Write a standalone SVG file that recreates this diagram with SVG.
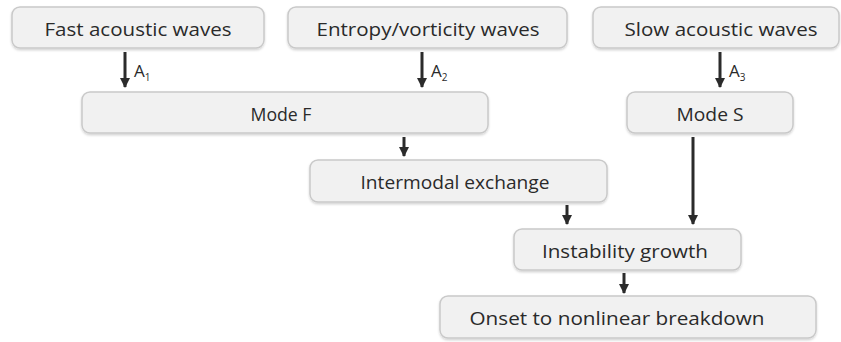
<svg xmlns="http://www.w3.org/2000/svg" width="841" height="342" viewBox="0 0 841 342">
<defs>
<marker id="ah" viewBox="0 0 10 10" refX="9" refY="5" markerWidth="3.4" markerHeight="3.4" orient="auto" markerUnits="strokeWidth">
<path d="M0,0 L10,5 L0,10 z" fill="#2b2b2b"/>
</marker>
<filter id="sh" x="-5%" y="-10%" width="110%" height="130%">
<feDropShadow dx="0" dy="1.5" stdDeviation="1" flood-color="#000" flood-opacity="0.18"/>
</filter>
</defs>
<style>
.box{fill:#f1f1f1;stroke:#c9c9c9;stroke-width:1.5;filter:url(#sh)}
.t{font-family:"Open Sans","Noto Sans","Liberation Sans",sans-serif;font-size:18.5px;fill:#2a2a2a;text-anchor:middle;dominant-baseline:central}
.lbl{font-family:"Open Sans","Noto Sans","Liberation Sans",sans-serif;font-size:17px;fill:#2a2a2a}
.sub{font-size:10px}
.c{stroke:#2b2b2b;stroke-width:3;fill:none;marker-end:url(#ah)}
</style>
<g id="fast"><rect class="box" x="12" y="7" width="252" height="41" rx="8"/><text class="t" x="138" y="28" textLength="187" lengthAdjust="spacingAndGlyphs">Fast acoustic waves</text></g>
<g id="entropy"><rect class="box" x="288" y="7" width="279" height="41" rx="8"/><text class="t" x="428" y="28" textLength="223" lengthAdjust="spacingAndGlyphs">Entropy/vorticity waves</text></g>
<g id="slow"><rect class="box" x="593" y="7" width="246" height="41" rx="8"/><text class="t" x="721" y="28" textLength="193" lengthAdjust="spacingAndGlyphs">Slow acoustic waves</text></g>
<g id="modeF"><rect class="box" x="82" y="92" width="406" height="41" rx="8"/><text class="t" x="281" y="113" textLength="61" lengthAdjust="spacingAndGlyphs">Mode F</text></g>
<g id="modeS"><rect class="box" x="627" y="92" width="166" height="41" rx="8"/><text class="t" x="710" y="113" textLength="67" lengthAdjust="spacingAndGlyphs">Mode S</text></g>
<g id="intermodal"><rect class="box" x="310" y="160" width="297" height="42" rx="8"/><text class="t" x="455" y="181" textLength="189" lengthAdjust="spacingAndGlyphs">Intermodal exchange</text></g>
<g id="instability"><rect class="box" x="514" y="229" width="227" height="41" rx="8"/><text class="t" x="625" y="250" textLength="166" lengthAdjust="spacingAndGlyphs">Instability growth</text></g>
<g id="onset"><rect class="box" x="440" y="296" width="376" height="42" rx="8"/><text class="t" x="617" y="317" textLength="295" lengthAdjust="spacingAndGlyphs">Onset to nonlinear breakdown</text></g>
<g id="connectors">
<line class="c" x1="125" y1="52" x2="125" y2="87"/>
<line class="c" x1="422" y1="52" x2="422" y2="87"/>
<line class="c" x1="720" y1="52" x2="720" y2="87"/>
<line class="c" x1="404" y1="137" x2="404" y2="156"/>
<line class="c" x1="567" y1="205" x2="567" y2="224"/>
<line class="c" x1="693" y1="137" x2="693" y2="224"/>
<line class="c" x1="624" y1="273" x2="624" y2="293"/>
</g>
<g id="labels">
<text class="lbl" x="134" y="77">A<tspan class="sub" dy="4">1</tspan></text>
<text class="lbl" x="431" y="77">A<tspan class="sub" dy="4">2</tspan></text>
<text class="lbl" x="729" y="77">A<tspan class="sub" dy="4">3</tspan></text>
</g>
</svg>
